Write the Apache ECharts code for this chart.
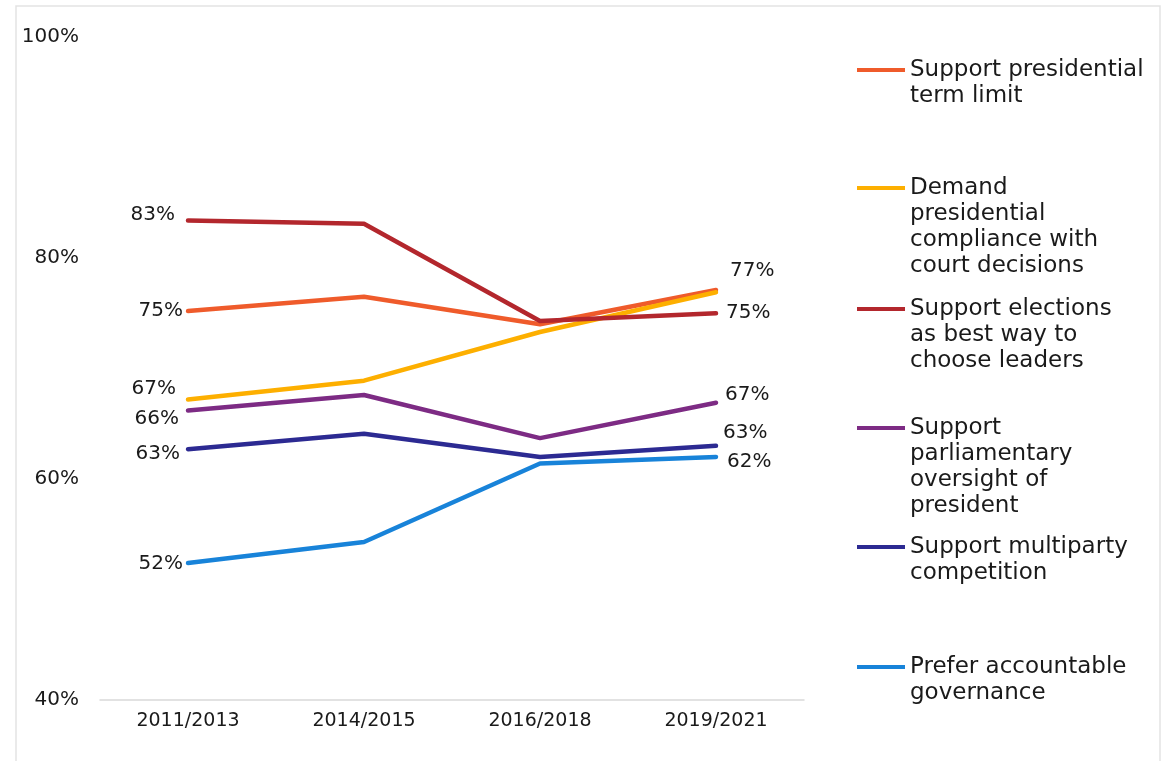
<!DOCTYPE html>
<html>
<head>
<meta charset="utf-8">
<script src="https://cdn.jsdelivr.net/npm/echarts@6/dist/echarts.min.js"></script>
<style>
html,body{margin:0;padding:0;background:#fff;}
#chart{width:1171px;height:761px;}
</style>
</head>
<body>
<div id="chart"></div>
<script>
// ---- data ----
var categories = ['2011/2013', '2014/2015', '2016/2018', '2019/2021'];
var yTicks = [40, 60, 80, 100];
var seriesNames = [
  'Support presidential\nterm limit',
  'Demand\npresidential\ncompliance with\ncourt decisions',
  'Support elections\nas best way to\nchoose leaders',
  'Support\nparliamentary\noversight of\npresident',
  'Support multiparty\ncompetition',
  'Prefer accountable\ngovernance'
];
var termLimit      = [75.2, 76.5, 74.0, 77.1];
var courtCompliance= [67.2, 68.9, 73.3, 76.9];
var elections      = [83.4, 83.1, 74.3, 75.0];
var parliament     = [66.2, 67.6, 63.7, 66.9];
var multiparty     = [62.7, 64.1, 62.0, 63.0];
var accountable    = [52.4, 54.3, 61.4, 62.0];
// which series carry an end label at 2019/2021
var endLabelShown  = [false, true, true, true, true, true];

// ---- styles ----
var colors = ['#EF5B2B', '#FDAF00', '#B3272D', '#7D2B84', '#2C2A92', '#1883D9'];
var startOffsets = [[0, 0], [-7, -11], [-8, -6], [-4, 8], [-3, 5], [0, 1]];
var endOffsets   = [[0, 0], [5, -21], [1, 0], [0, -8], [-2, -13], [2, 5]];
var legendFirstLineY = [70, 188, 309, 428, 547, 667];
var allValues = [termLimit, courtCompliance, elections, parliament, multiparty, accountable];
var FONT = 'DejaVu Sans';

function buildData(vals, idx) {
  return vals.map(function (v, i) {
    if (i === 0) {
      return { value: v, label: { show: true, position: 'left', distance: 5, offset: startOffsets[idx] } };
    }
    if (i === vals.length - 1 && endLabelShown[idx]) {
      return { value: v, label: { show: true, position: 'right', distance: 9, offset: endOffsets[idx] } };
    }
    return { value: v, label: { show: false } };
  });
}

var series = allValues.map(function (vals, idx) {
  return {
    name: seriesNames[idx],
    type: 'line',
    data: buildData(vals, idx),
    symbol: 'circle',
    symbolSize: 0.01,
    showSymbol: true,
    showAllSymbol: true,
    color: colors[idx],
    itemStyle: { color: colors[idx], opacity: 0 },
    lineStyle: { width: 4.5, color: colors[idx], cap: 'round', join: 'round' },
    label: {
      show: false,
      opacity: 1,
      fontFamily: FONT, fontSize: 20, color: '#1a1a1a',
      formatter: function (p) { return Math.round(p.value) + '%'; }
    },
    emphasis: { disabled: true }
  };
});

var legends = seriesNames.map(function (name, idx) {
  var n = name.split('\n').length;
  var H = 26 * (n - 1) + 4;
  var icon = 'path://M0,0H48V4H0Z M47.9,' + (H - 0.1) + 'H48V' + H + 'H47.9Z';
  return {
    data: [name],
    orient: 'vertical',
    left: 857,
    top: legendFirstLineY[idx] - 13,
    padding: 0,
    itemWidth: 48,
    itemHeight: H,
    itemGap: 5,
    icon: icon,
    symbolKeepAspect: false,
    itemStyle: { borderWidth: 0, opacity: 1 },
    selectedMode: false,
    textStyle: { fontFamily: FONT, fontSize: 23, lineHeight: 26, color: '#1a1a1a', padding: [0, 0, 0, 0] }
  };
});

var option = {
  backgroundColor: '#ffffff',
  animation: false,
  legend: legends,
  grid: { left: 100, right: 367, top: 37, bottom: 61, containLabel: false },
  xAxis: {
    type: 'category',
    data: categories,
    boundaryGap: true,
    axisLine: { show: true, lineStyle: { color: '#d9d9d9', width: 1.5 } },
    axisTick: { show: false },
    axisLabel: { fontFamily: FONT, fontSize: 19, color: '#1a1a1a', margin: 12 }
  },
  yAxis: {
    type: 'value',
    min: yTicks[0],
    max: yTicks[yTicks.length - 1],
    interval: yTicks[1] - yTicks[0],
    axisLine: { show: false },
    axisTick: { show: false },
    splitLine: { show: false },
    axisLabel: { fontFamily: FONT, fontSize: 20, color: '#1a1a1a', margin: 21, formatter: '{value}%' }
  },
  graphic: [{
    type: 'rect',
    shape: { x: 16, y: 6, width: 1144, height: 800 },
    style: { fill: 'none', stroke: '#e3e3e3', lineWidth: 1.5 },
    silent: true,
    z: -10
  }],
  series: series
};

var chart = echarts.init(document.getElementById('chart'), null, { renderer: 'canvas' });
chart.setOption(option);
</script>
</body>
</html>
